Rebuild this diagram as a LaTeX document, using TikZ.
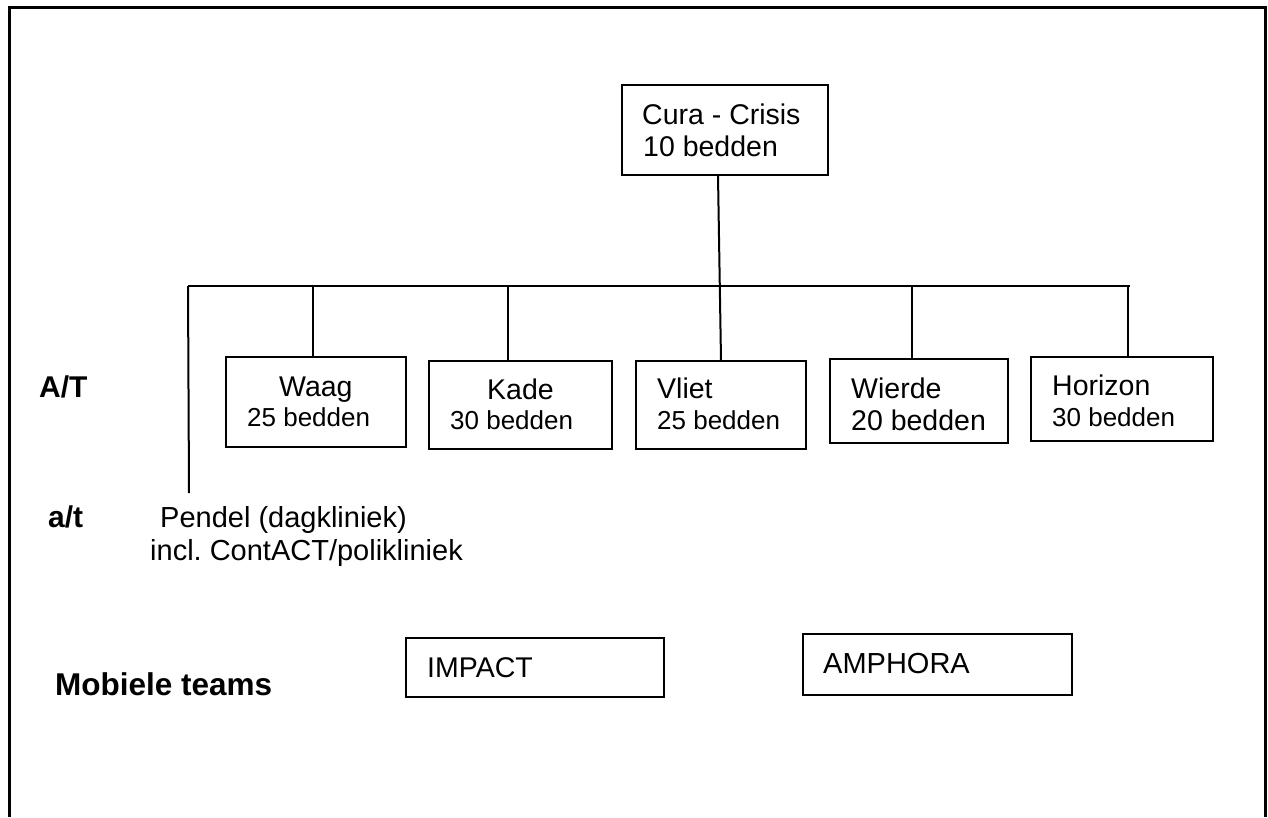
\documentclass[tikz,border=0pt]{standalone}
\usepackage{fontspec}
\setmainfont{Liberation Sans}
\usetikzlibrary{positioning}
\frenchspacing

\tikzset{
  unit/.style={draw, line width=1.6pt, inner sep=0pt},
  link/.style={line width=2pt},
  lbl/.style={anchor=base west, inner sep=0pt},
  big/.style={font=\fontsize{28.5}{33}\selectfont},
  small/.style={font=\fontsize{26}{30}\selectfont},
  head/.style={anchor=base west, inner sep=0pt, font=\fontsize{30}{34}\selectfont\bfseries}
}

\begin{document}
\begin{tikzpicture}[x=1pt,y=-1pt]
        \useasboundingbox (0,0) rectangle (1268,817);
        % frame (open at the bottom)
        \draw[line width=3pt] (9,817) -- (9,7) -- (1265,7) -- (1265,817);

        % top unit
        \node[unit, minimum width=206, minimum height=90] (cura) at (725,130) {};
        \node[lbl, big] (curaName) at (642,124) {Cura - Crisis};
        \node[lbl, big] (curaBeds) at (643,156) {10 bedden};

        % clinical units
        \node[unit, minimum width=180, minimum height=90] (waag) at (316,402) {};
        \node[lbl, big] (waagName) at (279,396) {Waag};
        \node[lbl, small] (waagBeds) at (247,426) {25 bedden};

        \node[unit, minimum width=183, minimum height=88] (kade) at (520.5,405) {};
        \node[lbl, big] (kadeName) at (487,399) {Kade};
        \node[lbl, small] (kadeBeds) at (450,429) {30 bedden};

        \node[unit, minimum width=170, minimum height=88] (vliet) at (721,405) {};
        \node[lbl, big] (vlietName) at (657,398) {Vliet};
        \node[lbl, small] (vlietBeds) at (657,429) {25 bedden};

        \node[unit, minimum width=178, minimum height=84] (wierde) at (919,401) {};
        \node[lbl, big] (wierdeName) at (851,398) {Wierde};
        \node[lbl, big] (wierdeBeds) at (851,430) {20 bedden};

        \node[unit, minimum width=182, minimum height=84] (horizon) at (1122,399) {};
        \node[lbl, big] (horizonName) at (1052,395) {Horizon};
        \node[lbl, small] (horizonBeds) at (1052,426) {30 bedden};

        % day clinic
        \node[lbl, font=\fontsize{29}{33}\selectfont] (pendelName) at (160,527) {Pendel (dagkliniek)};
        \node[lbl, font=\fontsize{29}{33}\selectfont] (pendelSub) at (150,560) {incl. ContACT/polikliniek};

        % mobile teams
        \node[unit, minimum width=258, minimum height=59] (impact) at (535,667.5) {};
        \node[lbl, font=\fontsize{28.5}{33}\selectfont] (impactName) at (427,677) {IMPACT};
        \node[unit, minimum width=269, minimum height=61] (amphora) at (937.5,664.5) {};
        \node[lbl, font=\fontsize{29}{33}\selectfont] (amphoraName) at (823,673) {AMPHORA};

        % row labels
        \node[head] (rowAT) at (39,397) {A/T};
        \node[head] (rowat) at (48,527) {a/t};
        \node[head, font=\fontsize{31.5}{36}\selectfont\bfseries] (rowMob) at (55,695) {Mobiele teams};

        % tree lines
        \coordinate (busL) at (188,286);
        \coordinate (busR) at (1130,286);
        \coordinate (pendelTop) at (189,493);
        \draw[link] (busL) -- (busR);
        \draw[link] ([xshift=-7pt]cura.south) -- (vliet.north);
        \draw[link] (busL) -- (pendelTop);
        \draw[link] ([xshift=-3pt]waag.north |- busL) -- ([xshift=-3pt]waag.north);
        \draw[link] ([xshift=-13pt]kade.north |- busL) -- ([xshift=-13pt]kade.north);
        \draw[link] ([xshift=-7pt]wierde.north |- busL) -- ([xshift=-7pt]wierde.north);
        \draw[link] ([xshift=6pt]horizon.north |- busL) -- ([xshift=6pt]horizon.north);
    \end{tikzpicture}
\end{document}
